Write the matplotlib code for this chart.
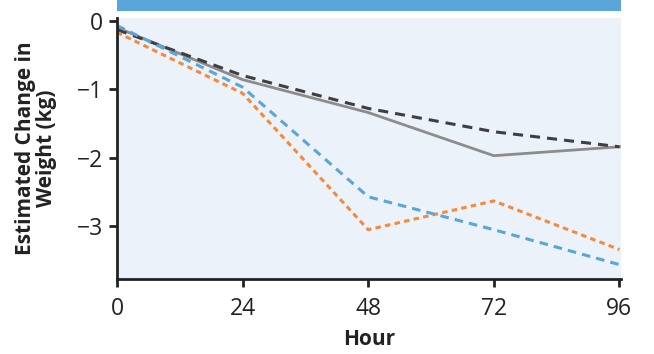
import numpy as np
import matplotlib.pyplot as plt
from matplotlib.patches import Rectangle

plt.rcParams['font.family'] = ['Open Sans', 'DejaVu Sans']

hours = [0, 24, 48, 72, 96]
grey_solid = [-0.10, -0.86, -1.34, -1.97, -1.84]
dark_dashed = [-0.13, -0.80, -1.28, -1.62, -1.84]
blue_dashed = [-0.07, -0.97, -2.57, -3.05, -3.56]
orange_dashed = [-0.17, -1.06, -3.05, -2.63, -3.34]

fig = plt.figure(figsize=(6.54, 3.54), dpi=100)
ax = fig.add_axes([117/654, 1 - 279/354, 504/654, 261/354])
ax.set_facecolor('#ebf2fa')

ax.plot(hours, grey_solid, color='#8c8c8c', lw=2.0, solid_joinstyle='round')
ax.plot(hours, dark_dashed, color='#3f3f3f', lw=2.2, dashes=(3.3, 2.3))
ax.plot(hours, orange_dashed, color='#f58a3a', lw=2.2, dashes=(1.8, 1.4))
ax.plot(hours, blue_dashed, color='#5aa5da', lw=2.2, dashes=(2.8, 2.0))

ax.set_xlim(0, 96.3)
ax.set_ylim(-3.77, 0.04)
ax.set_xticks(hours)
ax.set_yticks([0, -1, -2, -3])
ax.set_yticklabels(['0', '\u22121', '\u22122', '\u22123'])
ax.tick_params(labelsize=16.5, length=6, width=2, color='#222222', labelcolor='#222222')
ax.tick_params(axis='x', pad=7)
ax.tick_params(axis='y', pad=4)
for s in ['top', 'right']:
    ax.spines[s].set_visible(False)
for s in ['left', 'bottom']:
    ax.spines[s].set_linewidth(2)
    ax.spines[s].set_color('#222222')

ax.set_xlabel('Hour', fontsize=15, fontweight='bold', color='#222222', labelpad=6)
ax.set_ylabel('Estimated Change in\nWeight (kg)', fontsize=15, fontweight='bold', color='#222222',
              labelpad=14, linespacing=1.0)

fig.add_artist(Rectangle((117/654, 1 - 11/354), 504/654, 11/354, transform=fig.transFigure,
                         color='#5aa5da', lw=0))

fig.savefig('out.png', dpi=100)
